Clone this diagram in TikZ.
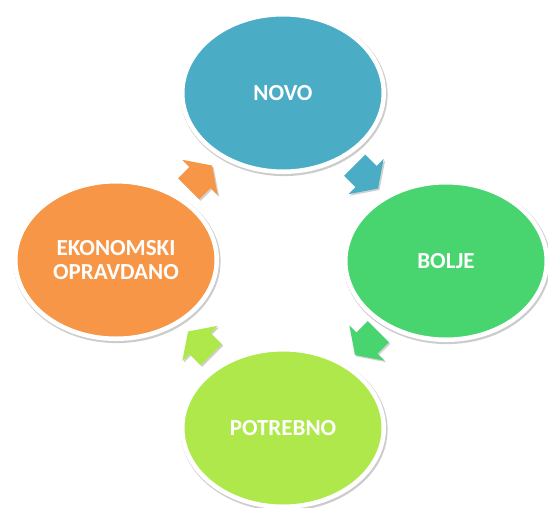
\documentclass[tikz,border=0pt]{standalone}
\usepackage{fontspec}
\setmainfont{Carlito}
\usetikzlibrary{shapes.geometric}
\definecolor{cnovo}{HTML}{4BACC6}
\definecolor{cbolje}{HTML}{48D46F}
\definecolor{cpotr}{HTML}{AEE84A}
\definecolor{cekon}{HTML}{F79646}
\tikzset{
  bubble/.style={ellipse, draw=white, line width=4.5pt, minimum width=201.5pt,
    minimum height=157.5pt, inner sep=0pt, text=white, align=center,
    font=\fontsize{23}{24}\selectfont\bfseries},
  bshadow/.style={fill=black!20},
  cyclearrow/.pic={\fill[pic actions] (-16,15) -- (0,15) -- (0,25) -- (17,0)
    -- (0,-25) -- (0,-15) -- (-16,-15) -- cycle;},
  ashadow/.style={fill=black!18}
}
\begin{document}
\begin{tikzpicture}[x=1pt,y=-1pt]
\useasboundingbox (0,0) rectangle (548,507);
\clip (0,0) rectangle (548,507);
% shadows of bubbles
\fill[bshadow] (284,94.5) ellipse [x radius=103.6pt, y radius=81.6pt];
\fill[bshadow] (447,262.5) ellipse [x radius=103.6pt, y radius=81.6pt];
\fill[bshadow] (284,429.5) ellipse [x radius=103.6pt, y radius=81.6pt];
\fill[bshadow] (117,261.5) ellipse [x radius=103.6pt, y radius=81.6pt];
% bubbles
\node[bubble, fill=cnovo] (novo) at (283,93) {NOVO};
\node[bubble, fill=cbolje] (bolje) at (446,261) {BOLJE};
\node[bubble, fill=cpotr] (potrebno) at (283,428) {POTREBNO};
\node[bubble, fill=cekon] (ekon) at (116,260) {EKONOMSKI\\OPRAVDANO};
% arrow shadows
\pic[ashadow, rotate=45] at (201.5,179) {cyclearrow};
\pic[ashadow, rotate=-45] at (367.5,178) {cyclearrow};
\pic[ashadow, rotate=-135] at (368.5,344.5) {cyclearrow};
\pic[ashadow, rotate=135] at (201.5,345) {cyclearrow};
% arrows
\pic[fill=cekon, rotate=45] at (200,177.5) {cyclearrow};
\pic[fill=cnovo, rotate=-45] at (366,176.5) {cyclearrow};
\pic[fill=cbolje, rotate=-135] at (367,343) {cyclearrow};
\pic[fill=cpotr, rotate=135] at (200,343.5) {cyclearrow};
\end{tikzpicture}
\end{document}
